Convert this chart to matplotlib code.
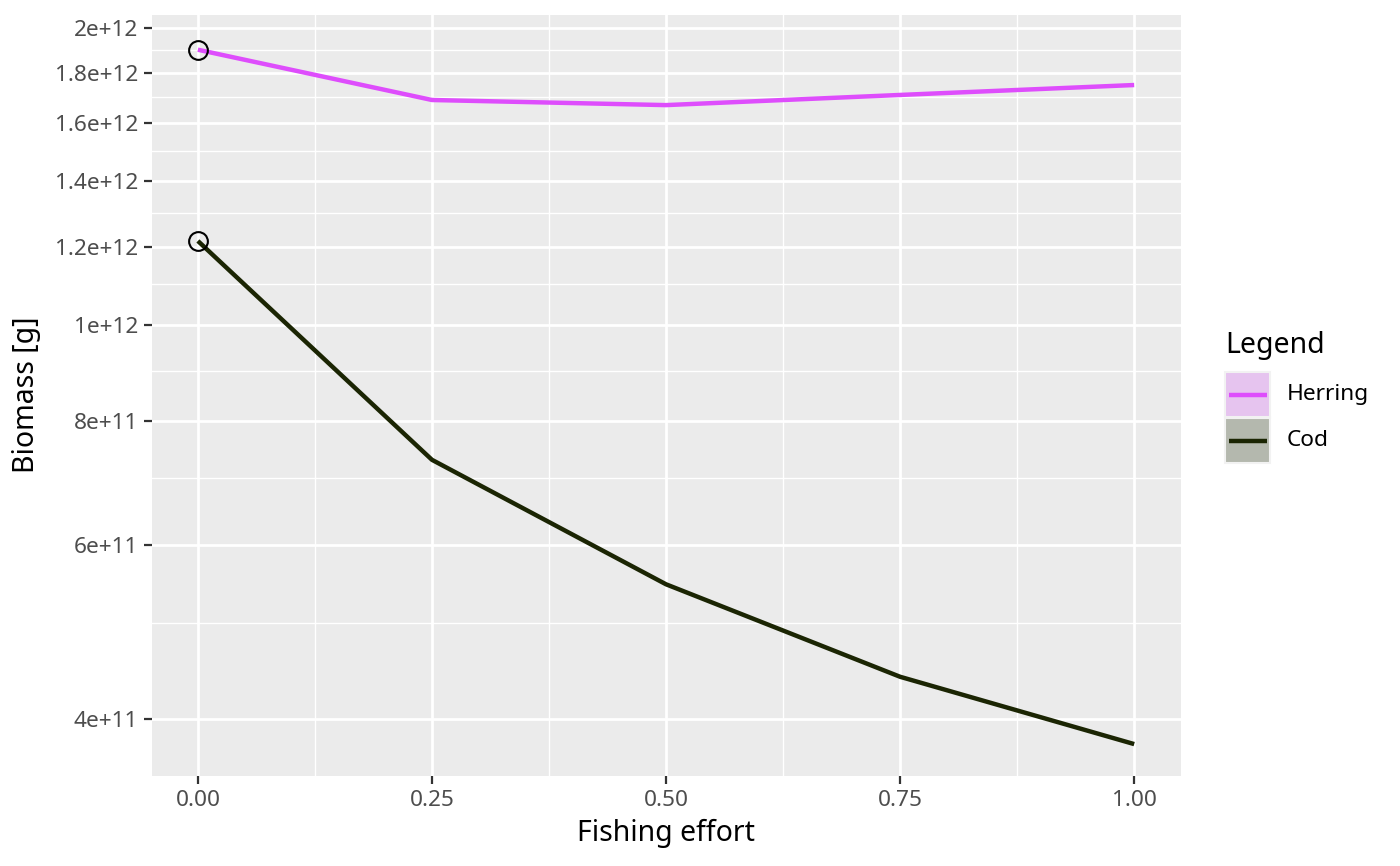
import matplotlib.pyplot as plt
import matplotlib.ticker as mticker
from matplotlib.patches import Rectangle
from matplotlib.lines import Line2D

plt.rcParams['font.family'] = ['Noto Sans', 'DejaVu Sans']

effort = [0.0, 0.25, 0.5, 0.75, 1.0]
herring = [1.90e12, 1.69e12, 1.67e12, 1.71e12, 1.75e12]
cod = [1.217e12, 7.31e11, 5.47e11, 4.41e11, 3.77e11]

species = ['Herring', 'Cod']
line_colors = ['#DE4DFC', '#1B2503']
key_fills = ['#E6C4EF', '#B4B8AE']

y_major = [4e11, 6e11, 8e11, 1e12, 1.2e12, 1.4e12, 1.6e12, 1.8e12, 2e12]
y_labels = ['4e+11', '6e+11', '8e+11', '1e+12', '1.2e+12', '1.4e+12', '1.6e+12', '1.8e+12', '2e+12']
y_minor = [5e11, 7e11, 9e11, 1.1e12, 1.3e12, 1.5e12, 1.7e12, 1.9e12]
x_major = [0.0, 0.25, 0.5, 0.75, 1.0]
x_labels = ['0.00', '0.25', '0.50', '0.75', '1.00']
x_minor = [0.125, 0.375, 0.625, 0.875]

W, H = 1400, 866


def fx(px):
    return px / W


def fy(py):
    return 1 - py / H


fig = plt.figure(figsize=(14, 8.66), dpi=100)
ax = fig.add_axes([fx(152), fy(776), (1181 - 152) / W, (776 - 15) / H])
ax.set_facecolor('#EBEBEB')
ax.set_yscale('log')

for v in y_minor:
    ax.axhline(v, color='white', lw=1.0, zorder=1)
for v in y_major:
    ax.axhline(v, color='white', lw=2.0, zorder=1)
for v in x_minor:
    ax.axvline(v, color='white', lw=1.0, zorder=1)
for v in x_major:
    ax.axvline(v, color='white', lw=2.0, zorder=1)

for vals, col in zip([herring, cod], line_colors):
    ax.plot(effort, vals, color=col, lw=3.2, zorder=3, solid_capstyle='butt')
    ax.plot(effort[0], vals[0], marker='o', ms=13.5, mfc='none', mec='black', mew=1.5, zorder=4)

ax.set_xlim(-0.049, 1.05)
ax.set_ylim(3.50e11, 2.06e12)
ax.yaxis.set_major_locator(mticker.FixedLocator(y_major))
ax.yaxis.set_major_formatter(mticker.FixedFormatter(y_labels))
ax.yaxis.set_minor_locator(mticker.NullLocator())
ax.set_xticks(x_major)
ax.set_xticklabels(x_labels)
for s in ax.spines.values():
    s.set_visible(False)
ax.tick_params(axis='both', length=6, width=1.6, color='#333333', labelcolor='#4D4D4D',
               labelsize=16.3, pad=4)

fig.text(fx(666), fy(833), 'Fishing effort', fontsize=20.5, ha='center', va='center')
fig.text(fx(27), fy(395), 'Biomass [g]', fontsize=20.5, ha='center', va='center', rotation=90)

# legend drawn by hand, ggplot style
fig.text(fx(1225), fy(353), 'Legend', fontsize=20.5, ha='left', va='baseline')
key_tops = [372, 418]
for name, fill, col, top in zip(species, key_fills, line_colors, key_tops):
    fig.add_artist(Rectangle((fx(1225), fy(top + 45)), 45 / W, 45 / H, transform=fig.transFigure,
                             facecolor=fill, edgecolor='#F2F2F2', lw=1.5))
    yc = fy(top + 22.5)
    fig.add_artist(Line2D([fx(1229), fx(1267)], [yc, yc], transform=fig.transFigure,
                          color=col, lw=3.2, solid_capstyle='butt'))
    fig.text(fx(1287), yc, name, fontsize=16.3, ha='left', va='center')

fig.savefig('out.png', dpi=100)
